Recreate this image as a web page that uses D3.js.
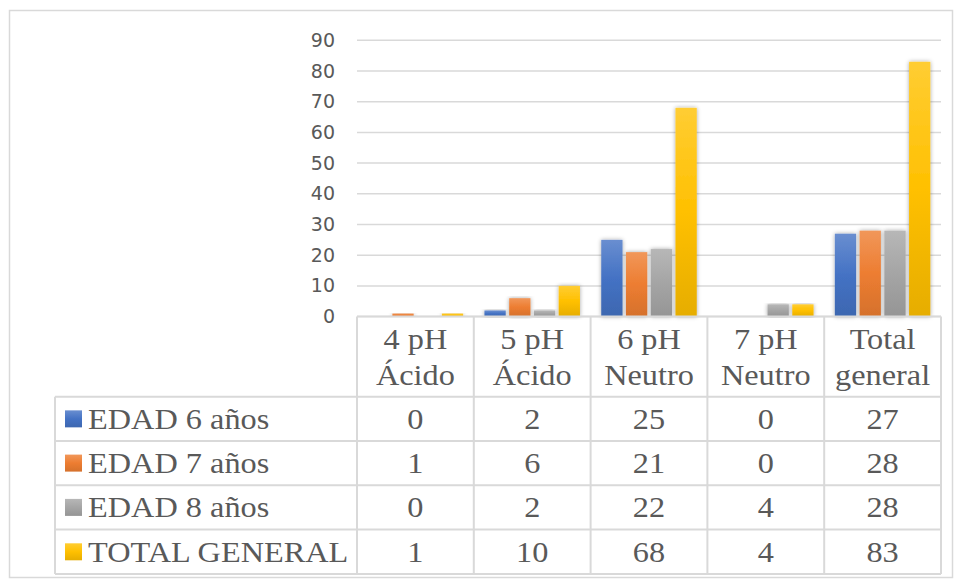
<!DOCTYPE html>
<html><head><meta charset="utf-8">
<script src="https://cdn.jsdelivr.net/npm/d3@7"></script>
<style>body{margin:0;background:#fff}svg{display:block}</style>
</head><body><svg id="c" width="955" height="581"></svg>
<script>
const categories = [["4 pH","Ácido"],["5 pH","Ácido"],["6 pH","Neutro"],["7 pH","Neutro"],["Total","general"]];
const seriesNames = ["EDAD 6 años","EDAD 7 años","EDAD 8 años","TOTAL GENERAL"];
const edad6 = [0,2,25,0,27];
const edad7 = [1,6,21,0,28];
const edad8 = [0,2,22,4,28];
const totalGeneral = [1,10,68,4,83];
const yTicks = [0,10,20,30,40,50,60,70,80,90];
const colors = ["#4472C4","#ED7D31","#A5A5A5","#FFC000"];
const series = [edad6,edad7,edad8,totalGeneral];

(function(){
const svg = d3.select("#c");
const txt = "#595959", grid = "#d9d9d9";
const pLeft = 357, pRight = 941, pTop = 40.3, pBottom = 316.6;
const rowLines = [316.6, 396.7, 441, 485.2, 529.6, 574];
const sx = 1.06;

svg.append("rect").attr("x",9.5).attr("y",10.5).attr("width",943).attr("height",567)
  .attr("fill","none").attr("stroke","#d9d9d9").attr("stroke-width",1.5);

const defs = svg.append("defs");
const f = defs.append("filter").attr("id","sh").attr("x","-50%").attr("y","-10%").attr("width","200%").attr("height","120%");
f.append("feDropShadow").attr("dx",0).attr("dy",0).attr("stdDeviation",2.2).attr("flood-color","#000").attr("flood-opacity",0.35);
colors.forEach((c,i)=>{
  const g = defs.append("linearGradient").attr("id","g"+i).attr("x1",0).attr("y1",0).attr("x2",0).attr("y2",1);
  g.append("stop").attr("offset","0%").attr("stop-color",d3.interpolateRgb(c,"#fff")(0.2));
  g.append("stop").attr("offset","50%").attr("stop-color",c);
  g.append("stop").attr("offset","100%").attr("stop-color",d3.interpolateRgb(c,"#000")(0.1));
});

const x0 = d3.scaleBand().domain(d3.range(categories.length)).range([pLeft,pRight]).paddingInner(0).paddingOuter(0);
const x1 = d3.scaleBand().domain(d3.range(series.length)).range([0,x0.bandwidth()]).paddingInner(0.14).paddingOuter(0.43);
const y = d3.scaleLinear().domain([0,90]).range([pBottom,pTop]);

svg.append("g").selectAll("line").data(yTicks).join("line")
  .attr("x1",pLeft).attr("x2",pRight).attr("y1",d=>y(d)).attr("y2",d=>y(d))
  .attr("stroke",grid).attr("stroke-width",1.5);

const yAxis = d3.axisLeft(y).tickValues(yTicks).tickSize(0).tickPadding(22);
const ya = svg.append("g").attr("transform",`translate(${pLeft},0)`).call(yAxis);
ya.select(".domain").remove();
ya.selectAll("text").attr("fill",txt).attr("font-family","DejaVu Sans").attr("font-size",19);

const gb = svg.append("g");
series.forEach((vals,si)=>{
  gb.selectAll(null).data(vals).join("rect")
    .attr("x",(d,i)=>x0(i)+x1(si)).attr("width",x1.bandwidth())
    .attr("y",d=>y(d)).attr("height",d=>y(0)-y(d))
    .attr("fill",`url(#g${si})`).attr("filter",d=>d>0?"url(#sh)":null);
});

const tb = svg.append("g").attr("stroke",grid).attr("stroke-width",2).attr("fill","none");
const tableLeft = 55;
tb.append("line").attr("x1",pLeft).attr("x2",pRight).attr("y1",rowLines[0]).attr("y2",rowLines[0]);
rowLines.slice(1).forEach(yy=>tb.append("line").attr("x1",tableLeft).attr("x2",pRight).attr("y1",yy).attr("y2",yy));
tb.append("line").attr("x1",tableLeft).attr("x2",tableLeft).attr("y1",rowLines[1]).attr("y2",rowLines[5]);
categories.forEach((c,i)=>tb.append("line").attr("x1",x0(i)).attr("x2",x0(i)).attr("y1",rowLines[0]).attr("y2",rowLines[5]));
tb.append("line").attr("x1",pRight).attr("x2",pRight).attr("y1",rowLines[0]).attr("y2",rowLines[5]);

const serif = "Liberation Serif, Times New Roman, serif";
const fs = 30.5;
function stext(x, yy, s, anchor){
  return svg.append("text").attr("transform",`translate(${x},${yy}) scale(${sx},1)`)
    .attr("text-anchor",anchor).attr("fill",txt).attr("font-family",serif).attr("font-size",fs).text(s);
}
categories.forEach((c,i)=>{
  c.forEach((line,li)=>stext(x0(i)+x0.bandwidth()/2, 349+li*36, line, "middle"));
});
series.forEach((vals,si)=>{
  const cy = (rowLines[si+1]+rowLines[si+2])/2;
  const base = cy + 10;
  svg.append("rect").attr("x",65).attr("y",cy-8.5).attr("width",17).attr("height",17).attr("fill",`url(#g${si})`);
  stext(88, base, seriesNames[si], "start");
  vals.forEach((v,i)=>stext(x0(i)+x0.bandwidth()/2, base, v, "middle"));
});
})();
</script></body></html>
